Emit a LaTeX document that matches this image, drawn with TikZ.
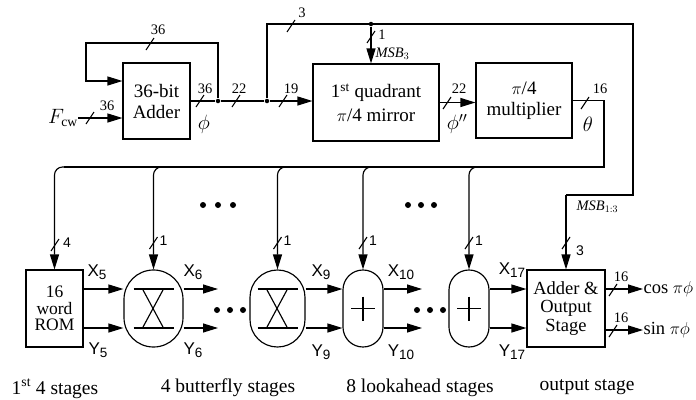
\documentclass[tikz,border=0pt]{standalone}
\usepackage{fontspec}
\setmainfont{Liberation Serif}
\newfontfamily\hv{Liberation Sans}
\usetikzlibrary{arrows.meta,calc}
\newcommand{\xs}[2]{#1\raisebox{-3.5pt}{\fontsize{13.5}{14}\selectfont #2}}
\begin{document}
\begin{tikzpicture}[x=1pt,y=-1pt,line width=1.15pt,
  blk/.style={draw,rectangle,align=center,inner sep=0pt,font=\fontsize{19}{21}\selectfont},
  stad/.style={draw,rectangle,inner sep=0pt,minimum height=77pt},
  arr/.style={-{Triangle[length=15pt,width=9pt]}},
  lbl/.style={inner sep=0pt,font=\fontsize{14.5}{16}\selectfont},
  xy/.style={inner sep=0pt,font=\hv\fontsize{17}{19}\selectfont},
  captxt/.style={inner sep=0pt,font=\fontsize{19.5}{22}\selectfont},
  buswidth/.pic={\draw[line width=1.1pt] (-4,6) -- (4,-6);},
  jdot/.style={circle,fill,inner sep=0pt,minimum size=4.5pt},
  bdot/.style={circle,fill,inner sep=0pt,minimum size=6pt}]
\useasboundingbox (0,0) rectangle (696,399);

% top row boxes
\node[blk,minimum width=67pt,minimum height=76pt] (adder) at (156.5,101) {36-bit\\Adder};
\node[blk,minimum width=126pt,minimum height=77pt] (quad) at (376,102.5) {1\textsuperscript{st} quadrant\\[3pt]$\pi$/4 mirror};
\node[blk,minimum width=96pt,minimum height=75pt] (mult) at (524,100.5) {$\pi$/4\\multiplier};

% junctions
\node[jdot] (j1) at (218,101) {};
\node[jdot] (j2) at (267,101) {};
\node[jdot] (j3) at (371,24) {};
\coordinate (fbA) at (218,43);
\coordinate (fbB) at (86,43);
\coordinate (fbC) at (86,81);
\coordinate (tA) at (267,24);
\coordinate (tB) at (633,24);
\coordinate (tC) at (633,195);
\coordinate (tD) at (566,195);

% adder loop & input
\node[inner sep=0pt,font=\fontsize{19.5}{20}\selectfont] (fcw) at (63,118) {$F_{\mathrm{cw}}$};
\coordinate (fcwE) at (83,118);
\draw[arr] (fcwE) -- (adder.west |- fcwE);
\draw (fcw.east) -- (fcwE);
\draw[arr] (j1) -- (fbA) -- (fbB) -- (fbC) -- (adder.west |- fbC);
\draw (adder.east |- j1) -- (j1) -- (j2);
\draw[arr] (j2) -- (quad.west |- j2);
\draw (j2) -- (tA) -- (tB) -- (tC) -- (tD);
\draw[arr] (j3) -- (j3 |- quad.north);
\draw[arr] (quad.east |- 0,102.5) -- (mult.west |- 0,102.5);

% bus widths top
\pic at (150,44) {buswidth};
\node[lbl] (w1) at (158,30) {36};
\pic at (90,118) {buswidth};
\node[lbl] (w2) at (107,106) {36};
\pic at (200,101) {buswidth};
\node[lbl] (w3) at (205,89) {36};
\pic at (236,101) {buswidth};
\node[lbl] (w4) at (239,89) {22};
\pic at (283,101) {buswidth};
\node[lbl] (w5) at (291,89) {19};
\pic at (291,26) {buswidth};
\node[lbl] (w6) at (302,13) {3};
\pic at (371,37) {buswidth};
\node[lbl] (w7) at (382,35) {1};
\node[lbl,anchor=west] (msb3) at (375,54) {$\mathit{MSB}_3$};
\pic at (447,103) {buswidth};
\node[lbl] (w8) at (459,89) {22};
\pic at (585,103) {buswidth};
\node[lbl] (w9) at (600,89) {16};
\node[inner sep=0pt,font=\fontsize{22}{22}\selectfont] (phi) at (204,124) {$\phi$};
\node[inner sep=0pt,font=\fontsize{22}{22}\selectfont] (phi2) at (457,124) {$\phi''$};
\node[inner sep=0pt,font=\fontsize{22}{22}\selectfont] (theta) at (588,124) {$\theta$};
\node[lbl,anchor=west] (msb13) at (576,207) {$\mathit{MSB}_{1:3}$};

% bottom row
\node[blk,minimum width=57pt,minimum height=77pt,font=\fontsize{17.5}{16.5}\selectfont] (rom) at (54.5,308.5) {16\\word\\ROM};
\node[stad,minimum width=59pt,rounded corners=29.4pt] (bf1) at (153.5,308.5) {};
\node[stad,minimum width=55pt,rounded corners=27.4pt] (bf2) at (277.5,308.5) {};
\node[stad,minimum width=40pt,rounded corners=19.9pt] (la1) at (363,308.5) {};
\node[stad,minimum width=40pt,rounded corners=19.9pt] (la2) at (469,308.5) {};
\node[blk,minimum width=78pt,minimum height=77pt,font=\fontsize{18.5}{18.5}\selectfont] (out) at (566,308.5) {Adder \&\\Output\\Stage};

% butterfly symbols
\foreach \c in {153.5,277.5}{
  \draw (\c-20,289) -- (\c+20,289);
  \draw (\c-20,328) -- (\c+20,328);
  \draw (\c-11,289) -- (\c+10,328);
  \draw (\c+10,289) -- (\c-11,328);
}
\foreach \c in {363,469}{
  \draw (\c-12,308.5) -- (\c+12,308.5);
  \draw (\c,296.5) -- (\c,320.5);
}

% bus from theta
\coordinate (bR) at (604,167);
\draw (mult.east |- 0,100.5) -- (604,100.5) -- (bR) -- (64,167);
\draw[arr,rounded corners=8pt] (64,167) -| (rom.north);
\draw[arr,rounded corners=8pt] (163,167) -| (bf1.north);
\draw[arr,rounded corners=8pt] (287,167) -| (bf2.north);
\draw[arr,rounded corners=8pt] (373,167) -| (la1.north);
\draw[arr,rounded corners=8pt] (479,167) -| (la2.north);
\draw[arr] (tD) -- (out.north);

% bottom widths
\pic at (55,245) {buswidth};
\node[lbl,font=\hv\fontsize{14}{14}\selectfont] (w10) at (67,243) {4};
\foreach \c/\n in {153.5/a,277.5/b,363/c,469/d}{
  \pic at (\c,243) {buswidth};
  \node[lbl,font=\hv\fontsize{14}{14}\selectfont] (one\n) at (\c+10,241) {1};
}
\pic at (566,243) {buswidth};
\node[lbl,font=\hv\fontsize{14}{14}\selectfont] (w11) at (580,251) {3};

% data arrows
\draw[arr] (rom.east |- 0,289) -- (bf1.west |- 0,289);
\draw[arr] (rom.east |- 0,328) -- (bf1.west |- 0,328);
\coordinate (e1) at (218,289);
\coordinate (e2) at (218,328);
\draw[arr] (bf1.east |- e1) -- (e1);
\draw[arr] (bf1.east |- e2) -- (e2);
\draw[arr] (bf2.east |- 0,289) -- (la1.west |- 0,289);
\draw[arr] (bf2.east |- 0,328) -- (la1.west |- 0,328);
\coordinate (e3) at (422,289);
\coordinate (e4) at (422,328);
\draw[arr] (la1.east |- e3) -- (e3);
\draw[arr] (la1.east |- e4) -- (e4);
\draw[arr] (la2.east |- 0,289) -- (out.west |- 0,289);
\draw[arr] (la2.east |- 0,328) -- (out.west |- 0,328);

% outputs
\node[inner sep=0pt,anchor=west,font=\fontsize{18.5}{19}\selectfont] (cos) at (643,289) {cos $\pi\phi$};
\node[inner sep=0pt,anchor=west,font=\fontsize{18.5}{19}\selectfont] (sin) at (643,330) {sin $\pi\phi$};
\draw[arr] (out.east |- cos) -- (cos.west);
\draw[arr] (out.east |- sin) -- (sin.west);
\pic at (613,290) {buswidth};
\node[lbl] (w12) at (621,277) {16};
\pic at (613,331) {buswidth};
\node[lbl] (w13) at (621,318) {16};

% xy labels
\node[xy] at (97,272) {\xs{X}{5}};
\node[xy] at (98,350) {\xs{Y}{5}};
\node[xy] at (193,272) {\xs{X}{6}};
\node[xy] at (193,350) {\xs{Y}{6}};
\node[xy] at (321,272) {\xs{X}{9}};
\node[xy] at (321,352) {\xs{Y}{9}};
\node[xy] at (401,272) {\xs{X}{10}};
\node[xy] at (401,352) {\xs{Y}{10}};
\node[xy] at (512,270) {\xs{X}{17}};
\node[xy] at (512,352) {\xs{Y}{17}};

% ellipsis dots
\foreach \x in {203,218,233,408,421,434}{\node[bdot] at (\x,205) {};}
\foreach \x in {217,230,243,417,430,443}{\node[bdot] at (\x,310) {};}

% captions
\node[captxt] at (55,389) {1\textsuperscript{st} 4 stages};
\node[captxt] at (228,388) {4 butterfly stages};
\node[captxt] at (420,388) {8 lookahead stages};
\node[captxt] at (587,387) {output stage};
\end{tikzpicture}
\end{document}
